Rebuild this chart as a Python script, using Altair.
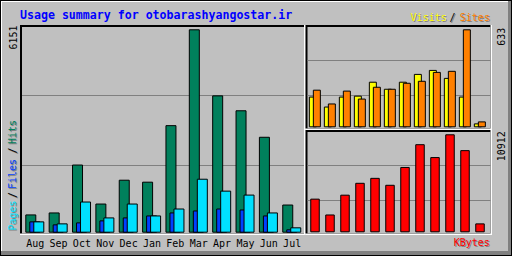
import altair as alt
import pandas as pd

# ---------------- data ----------------
months = ["Aug", "Sep", "Oct", "Nov", "Dec", "Jan", "Feb", "Mar", "Apr", "May", "Jun", "Jul"]
hits = [525, 585, 2041, 856, 1580, 1520, 3238, 6151, 4143, 3690, 2885, 826]
files = [314, 223, 283, 344, 434, 494, 585, 645, 705, 675, 494, 72]
pages = [314, 253, 917, 434, 856, 494, 705, 1610, 1248, 1128, 585, 133]
visits = [194, 129, 194, 200, 291, 245, 291, 342, 368, 316, 194, 19]
sites = [239, 149, 233, 181, 258, 245, 284, 297, 355, 362, 633, 32]
kbytes = [3674, 1893, 4120, 5456, 6013, 5233, 7238, 9799, 8351, 10912, 9131, 891]

title_text = "Usage summary for otobarashyangostar.ir"
legend_left = ["Pages", "/", "Files", "/", "Hits"]
legend_top = ["Visits", "/", "Sites"]
legend_kb = "KBytes"

# ---------------- style ----------------
BG = "#c0c0c0"
DK = "#808080"
C_HITS = "#00805c"
C_FILES = "#0040ff"
C_PAGES = "#00e0ff"
C_VISITS = "#ffff00"
C_SITES = "#ff8000"
C_KB = "#ff0000"
MONO = "DejaVu Sans Mono"

df = pd.DataFrame(dict(month=months, hits=hits, files=files, pages=pages,
                       visits=visits, sites=sites, kbytes=kbytes))
one = pd.DataFrame({"k": [0]})

max_main = max(hits + files + pages)
max_vs = max(visits + sites)
max_kb = max(kbytes)


def box(x1, x2, y1, y2, color):
    return alt.Chart(one).mark_rect(color=color).encode(
        x=alt.value(x1), x2=alt.value(x2), y=alt.value(y1), y2=alt.value(y2))


def hline(y, x1, x2, color):
    return alt.Chart(one).mark_rule(color=color, strokeWidth=1).encode(
        x=alt.value(x1), x2=alt.value(x2), y=alt.value(y))


def bars(field, color, r0, step, size, ydom, yrange):
    return alt.Chart(df).mark_bar(color=color, stroke="black", strokeWidth=1, size=size).encode(
        x=alt.X("month:N", sort=months,
                scale=alt.Scale(type="band", range=[r0, r0 + step * 12], paddingInner=0, paddingOuter=0),
                axis=None),
        y=alt.Y(f"{field}:Q", scale=alt.Scale(domain=[0, ydom], range=yrange, nice=False, zero=True),
                axis=None),
    )


def txt(s, x, y, color, size=10, align="left", angle=0, bold=False, baseline="alphabetic"):
    kw = dict(font=MONO, fontSize=size, align=align, baseline=baseline, color=color)
    if angle:
        kw["angle"] = angle
    if bold:
        kw["fontWeight"] = "bold"
    return alt.Chart(one).mark_text(**kw).encode(
        x=alt.value(x), y=alt.value(y), text=alt.value(s))


def shadow_txt(s, x, y, color, **kw):
    return [txt(s, x + 1, y + 1, DK, **kw), txt(s, x, y, color, **kw)]


layers = []

# outer bevel
layers += [
    box(0, 512, 0, 256, "black"),
    box(1, 511, 1, 255, DK),
    box(1, 508, 1, 251, "white"),
    box(2, 508, 2, 251, BG),
]

# panel borders (black top/left, white bottom/right)
def panel(x1, x2, y1, y2):
    return [
        box(x1, x2, y1, y2, "white"),
        box(x1, x2 - 1.5, y1, y2 - 1.5, "black"),
        box(x1 + 2, x2 - 1.5, y1 + 2, y2 - 1.5, BG),
    ]

layers += panel(20, 305.5, 25, 235)
layers += panel(305.5, 492, 25, 130)
layers += panel(305.5, 492, 130, 235)

# grid lines
layers += [
    hline(95.5, 22, 304, DK), hline(165.5, 22, 304, DK),
    hline(60.5, 307.5, 490.5, DK), hline(95.5, 307.5, 490.5, DK),
    hline(165.5, 307.5, 490.5, DK), hline(200.5, 307.5, 490.5, DK),
]

# main bars
STEP_M = 23.36
YR_M = [232.2, 29.8]
layers += [
    bars("hits", C_HITS, 19.12, STEP_M, 10, max_main, YR_M),
    bars("files", C_FILES, 23.12, STEP_M, 10, max_main, YR_M),
    bars("pages", C_PAGES, 27.12, STEP_M, 10, max_main, YR_M),
]

# visits / sites
YR_V = [126.8, 29.8]
layers += [
    bars("visits", C_VISITS, 305.35, 15, 7, max_vs, YR_V),
    bars("sites", C_SITES, 309.35, 15, 7, max_vs, YR_V),
]

# kbytes
layers += [bars("kbytes", C_KB, 307.5, 15, 8.5, max_kb, [231.8, 134.8])]

# month labels
layers += [
    alt.Chart(df).mark_text(font=MONO, fontSize=10, align="center", baseline="alphabetic", color="black").encode(
        x=alt.X("month:N", sort=months,
                scale=alt.Scale(type="band", range=[23.5, 23.5 + STEP_M * 12], paddingInner=0, paddingOuter=0),
                axis=None),
        y=alt.value(246.5),
        text="month:N",
    )
]

# title
layers += [txt(title_text, 20, 19, "#0000ff", size=11.6, bold=True)]

# max labels
layers += [
    txt(str(max_main), 16.7, 25.5, "black", angle=270, align="right"),
    txt(str(max_vs), 505.3, 27.8, "black", angle=270, align="right"),
    txt(str(max_kb), 505.3, 131.2, "black", angle=270, align="right"),
]

# left legend (vertical)
layers += shadow_txt(legend_left[0], 15.5, 230.5, C_PAGES, angle=270, align="left")
layers += shadow_txt(legend_left[1], 15.5, 195, "black", angle=270, align="center")
layers += shadow_txt(legend_left[2], 15.5, 189, C_FILES, angle=270, align="left")
layers += shadow_txt(legend_left[3], 15.5, 150.5, "black", angle=270, align="center")
layers += shadow_txt(legend_left[4], 15.5, 144, C_HITS, angle=270, align="left")

# top right legend
layers += shadow_txt(legend_top[0], 410.6, 21, C_VISITS)
layers += shadow_txt(legend_top[1], 452.5, 21, "black", align="center")
layers += shadow_txt(legend_top[2], 459.8, 21, C_SITES)

# KBytes legend
layers += shadow_txt(legend_kb, 489.8, 246, C_KB, align="right")

chart = alt.layer(*layers).resolve_scale(x="independent", y="independent").properties(
    width=512, height=256, background=BG, padding=0, autosize=alt.AutoSizeParams(type="none")
).configure_view(strokeWidth=0)

chart.save("out.html", embed_options={"renderer": "svg", "actions": False})
